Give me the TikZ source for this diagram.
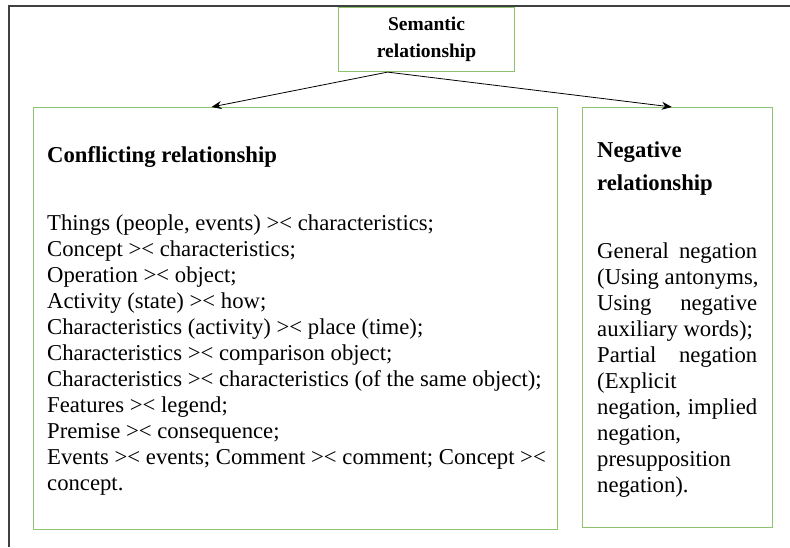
\documentclass[tikz,border=0pt]{standalone}
\usepackage{fontspec}
\setmainfont{Liberation Serif}
\usetikzlibrary{arrows.meta,calc}
\definecolor{boxgreen}{HTML}{8FC46E}
\definecolor{framegray}{HTML}{404040}

\begin{document}
\begin{tikzpicture}[x=1pt,y=-1pt,>={Stealth[length=10pt,width=8pt]},
  box/.style={draw=boxgreen,line width=1.1pt,inner sep=0pt,anchor=north west},
  txt/.style={inner sep=0pt,anchor=base west,font=\fontsize{22.7}{26}\selectfont},
  head/.style={txt,font=\fontsize{22.7}{26}\selectfont\bfseries}]
  \useasboundingbox (0,0) rectangle (790,547);
  % outer frame
  \draw[framegray,line width=1.2pt] (9,547) -- (9,6) -- (790,6);
  \node[box,fill=white,minimum width=176pt,minimum height=64.5pt,align=center,
        font=\fontsize{19.5}{27}\selectfont\bfseries] (sem) at (338,6.5) {Semantic\\relationship};
  \node[box,minimum width=524pt,minimum height=422pt] (conflict) at (33,107) {};
  \node[box,minimum width=190pt,minimum height=420pt] (negative) at (582,107) {};
  % arrows
  \coordinate (from) at ($(sem.south west)!0.28!(sem.south east)$);
  \draw[->,line width=0.8pt] (from) -- ($(conflict.north west)!0.34!(conflict.north east)$);
  \draw[->,line width=0.8pt] (from) -- ($(negative.north west)!0.47!(negative.north east)$);
  % left box text
  \node[head] (conflict-head) at (47,162) {Conflicting relationship};
  \foreach \t [count=\i] in {{Things (people, events) >< characteristics;},
      {Concept >< characteristics;},
      {Operation >< object;},
      {Activity (state) >< how;},
      {Characteristics (activity) >< place (time);},
      {Characteristics >< comparison object;},
      {Characteristics >< characteristics (of the same object);},
      {Features >< legend;},
      {Premise >< consequence;},
      {Events >< events; Comment >< comment; Concept ><},
      {concept.}}
    \node[txt] (conflict-\i) at (47,{230+26*(\i-1)}) {\t};
  % right box text
  \node[head] (negative-head1) at (597,157) {Negative};
  \node[head] (negative-head2) at (597,190) {relationship};
  \foreach \t [count=\i] in {{\makebox[160pt][s]{General negation}},
      {(Using antonyms,},
      {\makebox[160pt][s]{Using negative}},
      {auxiliary words);},
      {\makebox[160pt][s]{Partial negation}},
      {(Explicit},
      {\makebox[160pt][s]{negation, implied}},
      {negation,},
      {presupposition},
      {negation).}}
    \node[txt] (negative-\i) at (597,{258+26.1*(\i-1)}) {\t};
\end{tikzpicture}
\end{document}
